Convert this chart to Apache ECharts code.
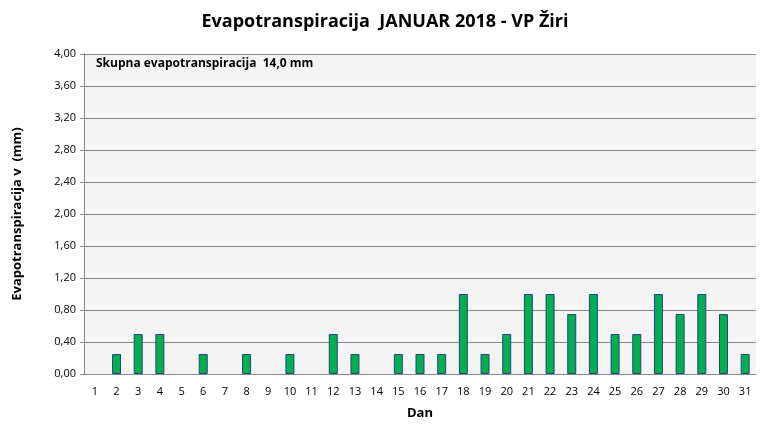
<!DOCTYPE html>
<html>
<head>
<meta charset="utf-8">
<script src="https://cdn.jsdelivr.net/npm/echarts@6/dist/echarts.min.js"></script>
<style>
  html, body { margin: 0; padding: 0; background: #fff; }
  #chart { width: 770px; height: 439px; }
</style>
</head>
<body>
<div id="chart"></div>
<script>
// dnevi v mesecu
const days = ['1','2','3','4','5','6','7','8','9','10','11','12','13','14','15','16',
  '17','18','19','20','21','22','23','24','25','26','27','28','29','30','31'];
// dnevna evapotranspiracija (mm)
const et = [0, 0.25, 0.5, 0.5, 0, 0.25, 0, 0.25, 0, 0.25, 0, 0.5, 0.25, 0, 0.25, 0.25,
  0.25, 1.0, 0.25, 0.5, 1.0, 1.0, 0.75, 1.0, 0.5, 0.5, 1.0, 0.75, 1.0, 0.75, 0.25];
const titleText = 'Evapotranspiracija  JANUAR 2018 - VP Žiri';
const totalText = 'Skupna evapotranspiracija  14,0 mm';

const font = 'Open Sans';
const chart = echarts.init(document.getElementById('chart'));

const option = {
  animation: false,
  backgroundColor: '#ffffff',
  textStyle: { fontFamily: font },
  title: {
    text: titleText,
    left: 'center',
    top: 8,
    textStyle: { fontFamily: font, fontSize: 18, fontWeight: 'bold', color: '#000' }
  },
  grid: {
    left: 84,
    right: 14,
    top: 54,
    bottom: 65,
    show: true,
    backgroundColor: '#f4f4f4',
    borderWidth: 0
  },
  graphic: [{
    type: 'text',
    left: 96,
    top: 58,
    style: {
      text: totalText,
      font: 'bold 12px "Open Sans"',
      fill: '#000'
    }
  }],
  xAxis: {
    type: 'category',
    data: days,
    name: 'Dan',
    nameLocation: 'middle',
    nameGap: 33,
    nameTextStyle: { fontWeight: 'bold', fontSize: 13, color: '#000' },
    axisLine: { lineStyle: { color: '#888', width: 1 } },
    axisTick: { show: false },
    axisLabel: { color: '#000', fontSize: 11, margin: 12, interval: 0 }
  },
  yAxis: {
    type: 'value',
    min: 0,
    max: 4,
    interval: 0.4,
    name: 'Evapotranspiracija v  (mm)',
    nameLocation: 'middle',
    nameGap: 60,
    nameTextStyle: { fontWeight: 'bold', fontSize: 13, color: '#000' },
    axisLine: { show: true, lineStyle: { color: '#888', width: 1 } },
    axisTick: { show: true, length: 4, lineStyle: { color: '#888' } },
    axisLabel: {
      color: '#000',
      fontSize: 11,
      margin: 8,
      formatter: v => v.toFixed(2).replace('.', ',')
    },
    splitLine: { lineStyle: { color: '#888', width: 1 } }
  },
  series: [{
    type: 'bar',
    // dnevi brez evapotranspiracije nimajo stolpca
    data: et.map(v => (v === 0 ? '-' : v)),
    barWidth: 9,
    itemStyle: {
      color: '#00b050',
      borderColor: '#2f3f80',
      borderWidth: 1
    }
  }]
};

chart.setOption(option);
</script>
</body>
</html>
